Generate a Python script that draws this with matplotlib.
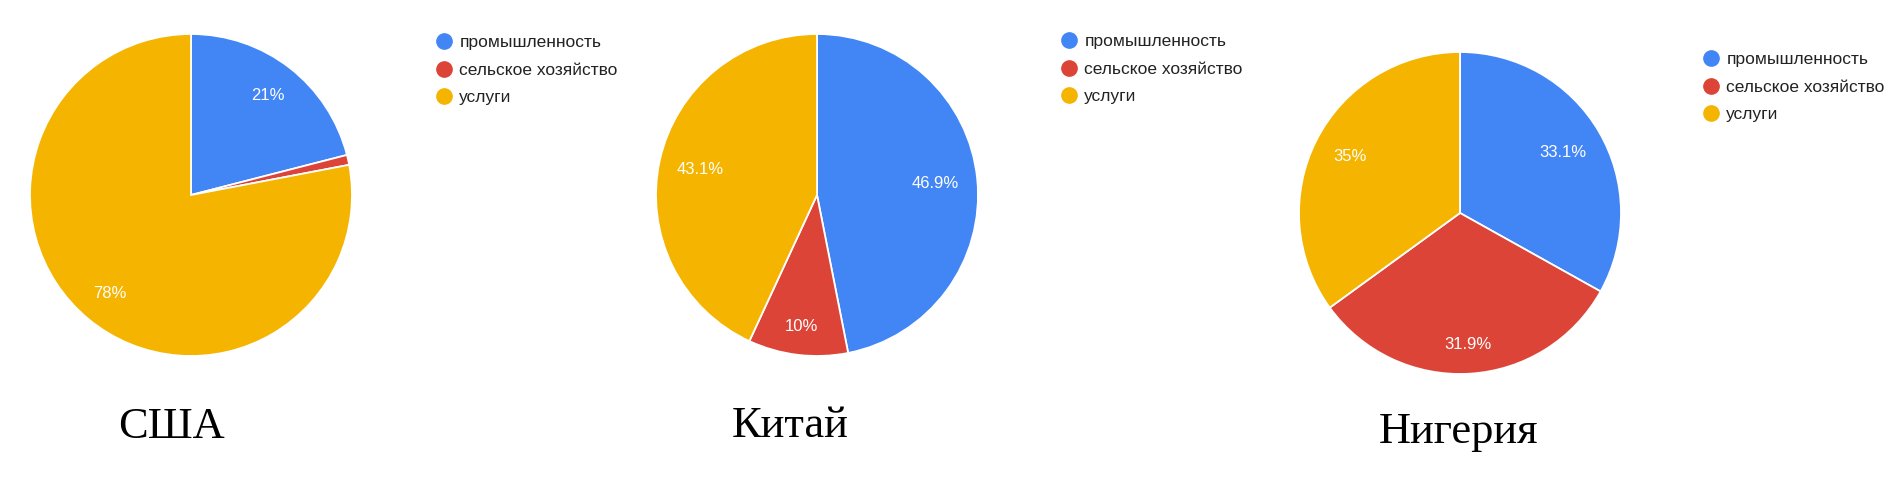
import math
import matplotlib
matplotlib.use("Agg")
import matplotlib.pyplot as plt
from matplotlib.lines import Line2D

# Sector shares of GDP (%)
categories = ["промышленность", "сельское хозяйство", "услуги"]
countries = ["США", "Китай", "Нигерия"]
usa_values = [21, 1, 78]
china_values = [46.9, 10, 43.1]
nigeria_values = [33.1, 31.9, 35]
colors = ["#4285F4", "#DB4437", "#F4B400"]

W, H, DPI = 1894, 498, 100

# layout in pixels (x from left, y from top)
pie_centers = [(191, 195), (817, 195), (1460, 213)]
pie_radius = 161
legend_topleft = [(435, 35), (1060, 34), (1702, 52)]
title_baseline = [(171, 438), (790, 437), (1458, 443)]
# radial placement of the percentage labels, as a fraction of the radius
label_radius = [[0.78, 0.78, 0.79], [0.74, 0.82, 0.74], [0.74, 0.82, 0.77]]

SANS = "Liberation Sans"
SERIF = "Liberation Serif"


def fx(px):
    return px / W


def fy(py):
    return 1 - py / H


def pct_label(p):
    if p < 3:
        return ""
    s = f"{p:.1f}"
    if s.endswith(".0"):
        s = s[:-2]
    return s + "%"


fig = plt.figure(figsize=(W / DPI, H / DPI), dpi=DPI)
fig.patch.set_facecolor("white")

series = [usa_values, china_values, nigeria_values]
for values, name, (cx, cy), (lx, ly), (tx, ty), dists in zip(
        series, countries, pie_centers, legend_topleft, title_baseline,
        label_radius):
    ax = fig.add_axes([fx(cx - pie_radius), fy(cy + pie_radius),
                       2 * pie_radius / W, 2 * pie_radius / H])
    wedges, _, autotexts = ax.pie(
        values, colors=colors, startangle=90, counterclock=False,
        autopct=pct_label, pctdistance=0.76, radius=1.0,
        wedgeprops=dict(edgecolor="white", linewidth=1.3),
        textprops=dict(color="white", fontsize=12, family=SANS))
    for w, t, d in zip(wedges, autotexts, dists):
        mid = math.radians((w.theta1 + w.theta2) / 2)
        t.set_position((d * math.cos(mid), d * math.sin(mid)))
    ax.set_xlim(-1, 1)
    ax.set_ylim(-1, 1)
    ax.set_aspect("equal")
    ax.axis("off")

    handles = [Line2D([], [], marker="o", linestyle="", markersize=11,
                      markerfacecolor=c, markeredgecolor=c) for c in colors]
    fig.legend(handles, categories, loc="upper left",
               bbox_to_anchor=(fx(lx), fy(ly)), bbox_transform=fig.transFigure,
               frameon=False, handlelength=1.0, handletextpad=0.4,
               labelspacing=0.72, borderpad=0, borderaxespad=0,
               prop=dict(family=SANS, size=12.5), labelcolor="#222222")

    fig.text(fx(tx), fy(ty), name, ha="center", va="baseline",
             family=SERIF, fontsize=32, color="black")

fig.savefig("out.png", dpi=DPI, facecolor="white")
